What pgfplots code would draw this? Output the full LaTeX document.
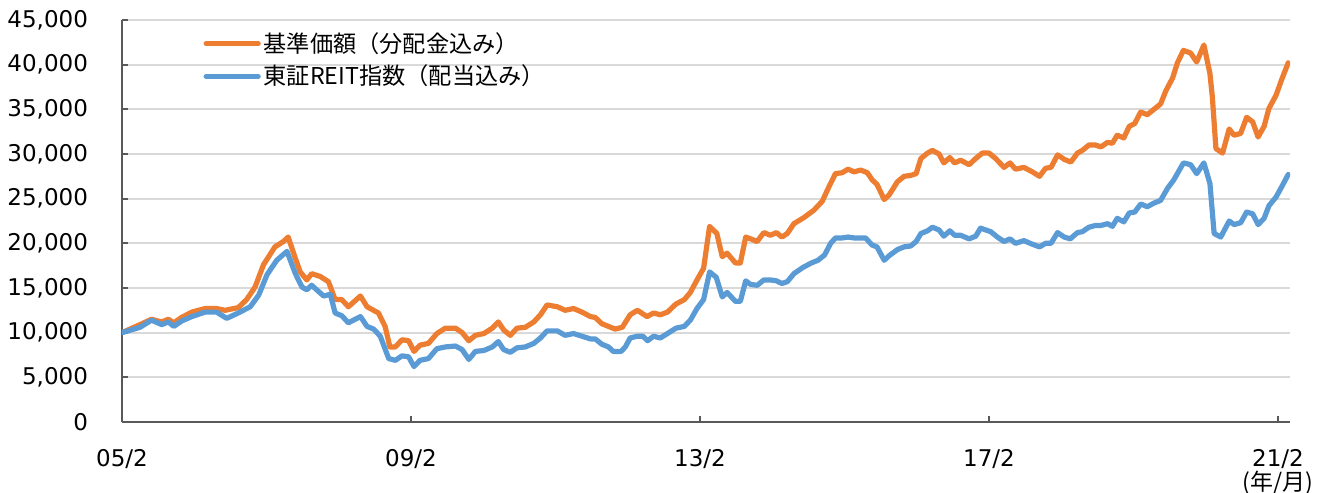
\documentclass[border=0pt]{standalone}
\usepackage{fontspec}
\setmainfont{DejaVu Sans}
\newfontfamily\cjk{Noto Sans CJK JP}
\usepackage{pgfplots}
\pgfplotsset{compat=1.18}
\definecolor{orangeL}{HTML}{ED7D31}
\definecolor{blueL}{HTML}{5B9BD5}
\definecolor{gridc}{HTML}{D9D9D9}
\definecolor{axc}{HTML}{595959}
\begin{document}
\begin{tikzpicture}
\begin{axis}[
  scale only axis, width=584pt, height=201pt,
  xmin=0, xmax=194, ymin=0, ymax=45000,
  axis lines=left,
  axis line style={-, axc, line width=1pt},
  xtick={0,48,96,144,192},
  xticklabels={05/2,09/2,13/2,17/2,{21/2\\{\cjk (年/月)}}},
  ytick={0,5000,10000,15000,20000,25000,30000,35000,40000,45000},
  scaled y ticks=false,
  /pgf/number format/.cd, 1000 sep={,}, assume math mode=true, /pgfplots/.cd,
  ymajorgrids, grid style={gridc, line width=0.9pt},
  tick style={axc, line width=1pt},
  major tick length=3pt,
  tick align=inside,
  ticklabel style={font=\fontsize{11.5}{12}\selectfont},
  yticklabel style={xshift=-13.5pt},
  xticklabel style={align=center, yshift=-10pt},
  legend style={at={(0.0695,0.978)}, anchor=north west, draw=none, fill=none,
    font=\cjk\fontsize{11.6}{13}\selectfont, row sep=2pt, inner sep=0pt,
    nodes={inner sep=1.5pt}},
  legend cell align=left,
  legend image code/.code={\draw[#1] (0pt,0pt) -- (26pt,0pt);},
  every axis plot/.append style={line width=2.6pt, line cap=round, line join=round, mark=none},
]
\addplot[orangeL] coordinates {
(0,10000)(3,10900)(4.9,11500)(6.6,11200)(7.7,11500)(8.6,11100)(9.9,11700)(11.6,12300)(13.8,12700)(15.7,12700)
(17.1,12500)(19.3,12800)(20.7,13700)(22.1,15100)(23.5,17600)(25.4,19600)(26.8,20200)(27.6,20700)(28.8,18300)(29.6,16800)
(30.7,15900)(31.5,16600)(32.9,16300)(34.3,15700)(35.4,13700)(36.5,13700)(37.6,12900)(39.6,14100)(40.7,12900)(42.6,12200)
(43.7,10700)(44.5,8400)(45.4,8400)(46.5,9200)(47.6,9100)(48.5,7900)(49.5,8600)(50.9,8800)(52.3,9900)(53.7,10500)
(55.4,10500)(56.5,10000)(57.6,9100)(58.7,9700)(60.1,9900)(61.5,10500)(62.5,11200)(63.4,10300)(64.5,9700)(65.6,10500)
(67,10600)(68.4,11200)(69.5,12000)(70.6,13100)(72.3,12900)(73.6,12500)(75,12700)(76.4,12300)(77.8,11800)(78.6,11700)
(79.7,11000)(80.8,10700)(81.9,10400)(83.1,10600)(84.4,12000)(85.6,12500)(87.2,11800)(88.3,12200)(89.4,12000)(90.6,12300)
(92,13200)(93.4,13700)(94.4,14500)(95.5,15900)(96.6,17200)(97.6,21900)(98.8,21100)(99.7,18500)(100.5,18900)(101.9,17800)
(102.7,17800)(103.6,20700)(104.4,20500)(105.5,20200)(106.6,21200)(107.7,20900)(108.7,21200)(109.6,20700)(110.5,21100)(111.6,22200)
(113.3,22900)(114.9,23700)(116.3,24700)(117.4,26300)(118.5,27800)(119.6,27900)(120.6,28300)(121.6,28000)(122.7,28200)(123.8,27900)
(124.6,27100)(125.4,26600)(126.6,24900)(127.4,25400)(128.8,26900)(129.9,27500)(131,27600)(131.9,27800)(132.7,29500)(133.8,30100)
(134.6,30400)(135.7,30000)(136.5,29000)(137.5,29600)(138.3,29000)(139.3,29300)(140.7,28800)(141.8,29500)(142.9,30100)(144,30100)
(145.1,29500)(146.5,28500)(147.5,29000)(148.4,28300)(149.8,28500)(151.2,28000)(152.4,27500)(153.4,28400)(154.3,28500)(155.4,29900)
(156.5,29400)(157.6,29100)(158.7,30100)(159.5,30400)(160.6,31000)(161.7,31000)(162.6,30800)(163.7,31300)(164.5,31200)(165.3,32100)
(166.4,31800)(167.3,33100)(168.2,33400)(169.2,34700)(170.3,34400)(171.4,35000)(172.5,35600)(173.4,37100)(174.5,38500)(175.3,40200)
(176.3,41600)(177.5,41300)(178.5,40300)(179.7,42200)(180.7,39000)(181.1,36400)(181.7,30600)(182.8,30100)(183.9,32800)(184.7,32100)
(185.8,32300)(186.8,34100)(187.8,33600)(188.7,31900)(189.7,33100)(190.5,35100)(191.7,36600)(192.6,38300)(193.7,40200)
};
\addlegendentry{基準価額（分配金込み）}
\addplot[blueL] coordinates {
(0,10000)(3,10600)(4.9,11400)(6.6,10900)(7.7,11200)(8.6,10700)(9.9,11300)(11.6,11800)(13.8,12300)(15.7,12300)
(17.4,11600)(19.3,12200)(21.3,12900)(22.7,14200)(24.1,16500)(25.7,18100)(27.4,19100)(28.8,16600)(29.9,15100)(30.7,14800)
(31.5,15300)(33.5,14100)(34.6,14300)(35.4,12200)(36.5,11900)(37.6,11100)(39.6,11800)(40.7,10700)(41.8,10400)(42.9,9600)
(44.3,7100)(45.4,6900)(46.5,7400)(47.6,7300)(48.5,6200)(49.5,6900)(50.9,7100)(52.3,8200)(53.7,8400)(55.4,8500)
(56.5,8100)(57.6,7000)(58.7,7900)(60.1,8000)(61.5,8400)(62.5,9000)(63.4,8100)(64.5,7800)(65.6,8300)(67,8400)
(68.4,8800)(69.5,9400)(70.6,10200)(72.3,10200)(73.6,9700)(75,9900)(76.4,9600)(77.8,9300)(78.6,9300)(79.7,8700)
(80.8,8400)(81.6,7900)(82.9,7900)(83.6,8400)(84.4,9400)(85.6,9600)(86.5,9600)(87.3,9100)(88.3,9600)(89.4,9400)
(90.6,9900)(92,10500)(93.4,10700)(94.4,11400)(95.5,12700)(96.6,13700)(97.6,16800)(98.7,16200)(99.7,14000)(100.5,14500)
(101.9,13500)(102.7,13500)(103.6,15800)(104.4,15400)(105.5,15300)(106.6,15900)(107.7,15900)(108.7,15800)(109.6,15500)(110.5,15700)
(111.6,16600)(113.1,17300)(114.5,17800)(115.6,18100)(116.7,18700)(117.7,20000)(118.5,20600)(119.6,20600)(120.6,20700)(121.6,20600)
(123.5,20600)(124.6,19800)(125.4,19600)(126.6,18100)(127.4,18600)(128.8,19300)(129.9,19600)(131,19700)(131.9,20200)(132.7,21100)
(133.8,21400)(134.6,21800)(135.7,21500)(136.5,20800)(137.5,21400)(138.3,20900)(139.3,20900)(140.7,20500)(141.8,20800)(142.6,21700)
(144.3,21300)(145.4,20700)(146.5,20200)(147.5,20500)(148.4,20000)(149.8,20300)(151.2,19900)(152.4,19600)(153.4,20000)(154.3,20000)
(155.4,21200)(156.5,20700)(157.5,20500)(158.7,21200)(159.5,21300)(160.6,21800)(161.7,22000)(162.6,22000)(163.7,22200)(164.5,21900)
(165.3,22800)(166.4,22400)(167.3,23400)(168.2,23500)(169.2,24400)(170.3,24100)(171.4,24500)(172.5,24800)(173.7,26200)(174.7,27100)
(176.3,29000)(177.5,28800)(178.5,27800)(179.7,29000)(180.7,26700)(181.4,21100)(182.5,20700)(183.9,22500)(184.7,22100)(185.8,22300)
(186.8,23500)(187.8,23300)(188.7,22100)(189.7,22800)(190.5,24200)(191.7,25200)(192.6,26300)(193.7,27700)
};
\addlegendentry{東証REIT指数（配当込み）}
\end{axis}
\pgfresetboundingbox
\path[use as bounding box] ([xshift=-61pt,yshift=-35.5pt]current axis.south west) rectangle ([xshift=17.5pt,yshift=10pt]current axis.north east);
\end{tikzpicture}
\end{document}
